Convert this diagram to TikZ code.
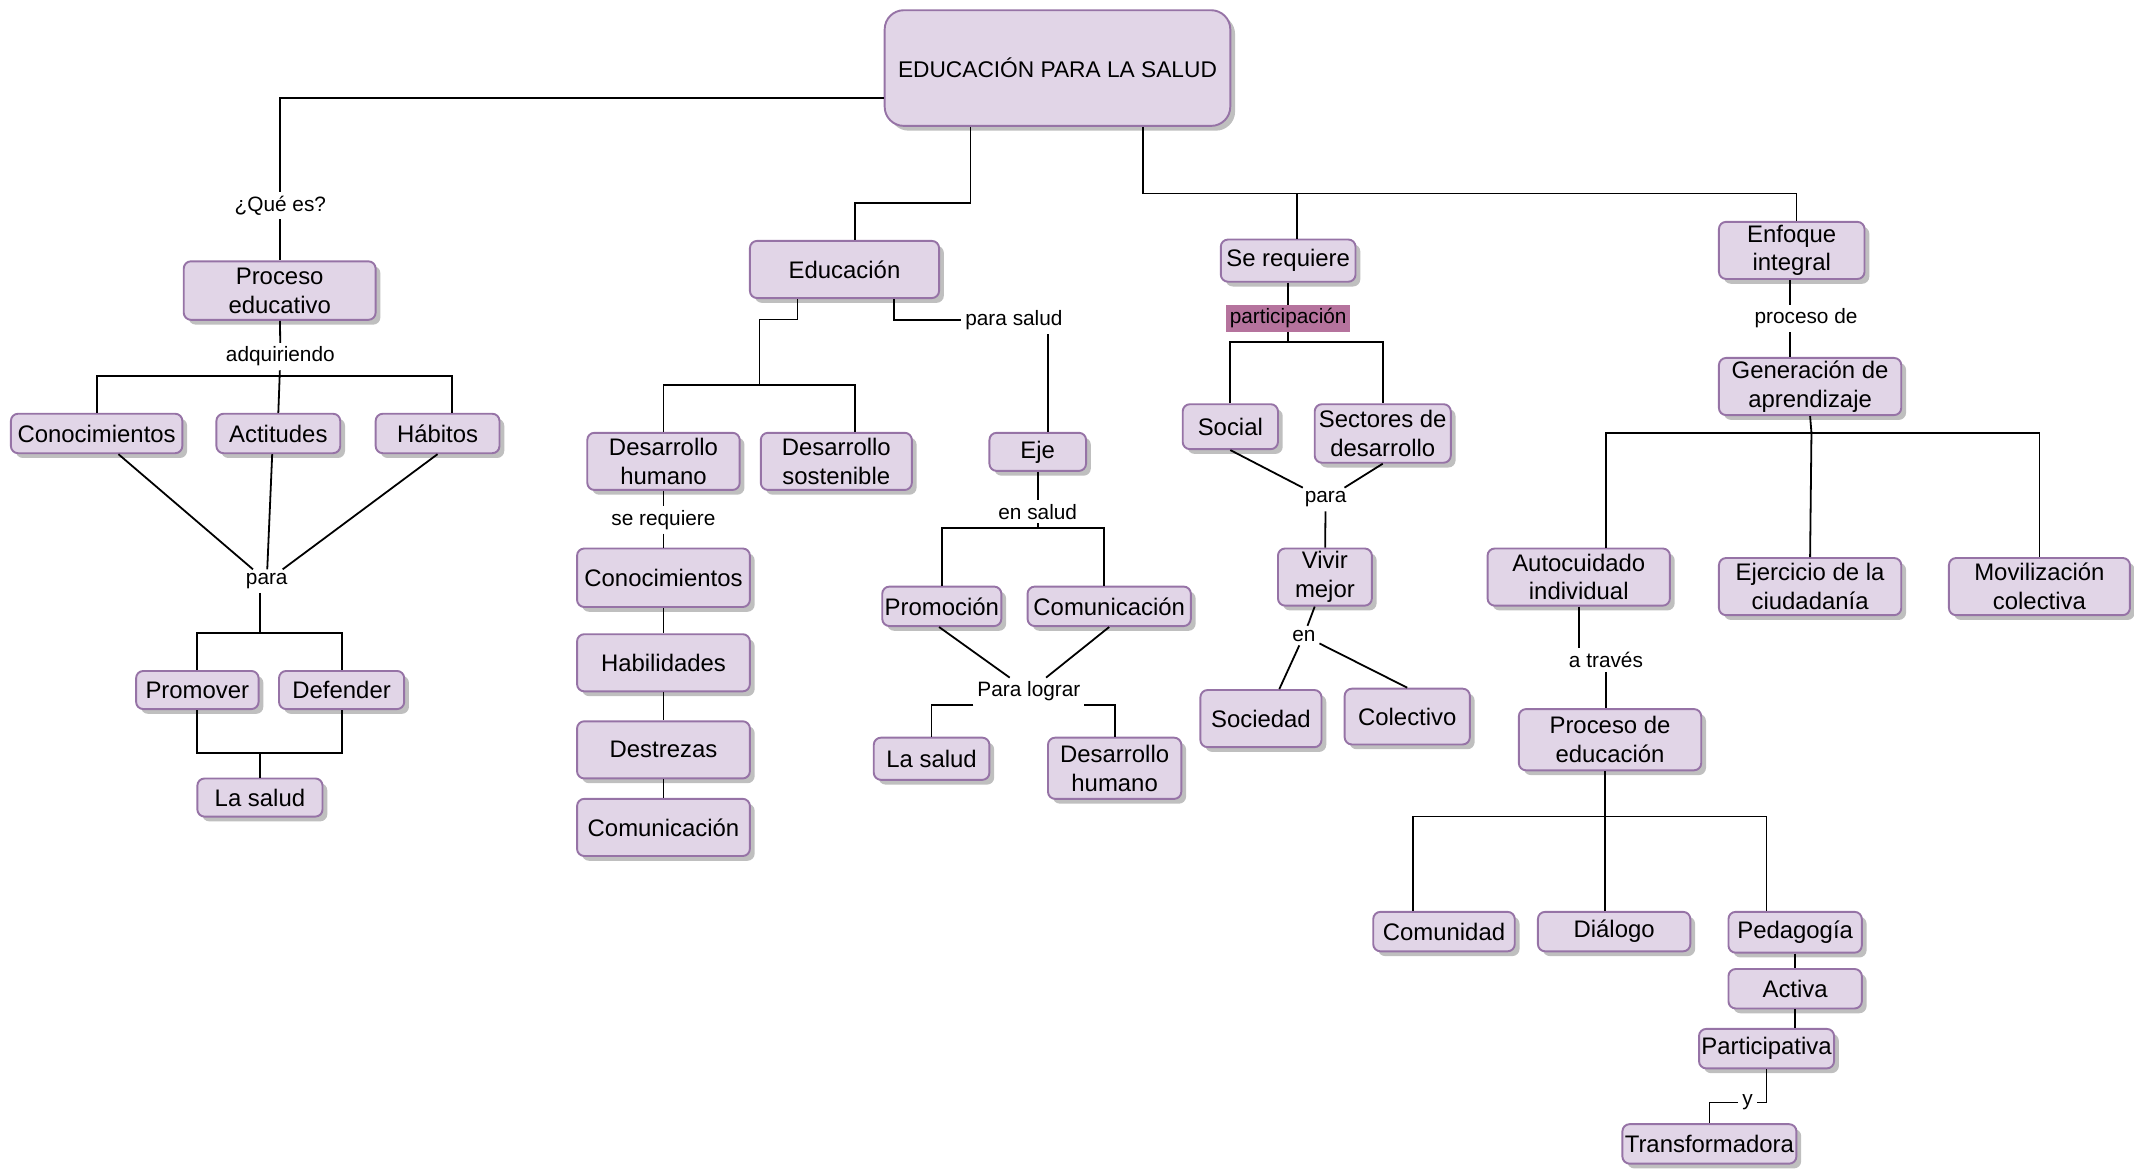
\documentclass[tikz,border=0pt]{standalone}
\usepackage{fontspec}
\setmainfont{Liberation Sans}
\usepackage{tikz}
\usetikzlibrary{positioning, shadows}
\definecolor{boxfill}{HTML}{E1D5E7}
\definecolor{boxdraw}{HTML}{9673A6}
\definecolor{markfill}{HTML}{B5739D}
\tikzset{box/.style={draw=boxdraw, fill=boxfill, line width=0.8pt, rounded corners=3pt,
		align=center, inner sep=1pt, font=\fontsize{10}{12}\selectfont,
		drop shadow={shadow xshift=2pt, shadow yshift=-2pt, fill=black!25, opacity=1}},
	lbl/.style={inner sep=1.5pt, font=\fontsize{8.7}{10}\selectfont}}

\begin{document}
\begin{tikzpicture}[x=0.02cm, y=-0.02cm]
	\useasboundingbox (0,0) rectangle (1568,859);

	\node[box, rounded corners=8pt, minimum width=5.08cm, minimum height=1.7cm, font=\fontsize{9.5}{11}\selectfont] (title) at (777,50) {EDUCACI\'ON PARA LA SALUD};

	% rama izquierda
	\node[lbl] (que) at (206,151) {¿Qué es?};
	\node[box, minimum width=2.82cm, minimum height=0.86cm] (proc) at (205.5,213.5) {Proceso\\educativo};
	\node[lbl] (adq) at (206,262) {adquiriendo};
	\node[box, minimum width=2.52cm, minimum height=0.58cm] (conocA) at (71,318.5) {Conocimientos};
	\node[box, minimum width=1.82cm, minimum height=0.58cm] (actit) at (204.5,318.5) {Actitudes};
	\node[box, minimum width=1.82cm, minimum height=0.58cm] (habit) at (321.5,318.5) {Hábitos};
	\node[lbl] (paraA) at (196,427) {para};
	\node[box, minimum width=1.80cm, minimum height=0.56cm] (promov) at (145,507) {Promover};
	\node[box, minimum width=1.84cm, minimum height=0.56cm] (defend) at (251,507) {Defender};
	\node[box, minimum width=1.84cm, minimum height=0.56cm] (saludA) at (191,586) {La salud};
	\coordinate (bA) at (205.5,276);
	\coordinate (bB) at (191,465);
	\coordinate (bC) at (191,553);

	% rama educacion
	\node[box, minimum width=2.78cm, minimum height=0.84cm] (educ) at (620.5,198) {Educación};
	\node[lbl] (psalud) at (745,235) {para salud};
	\node[box, minimum width=2.24cm, minimum height=0.84cm] (dhumA) at (487.5,339) {Desarrollo\\humano};
	\node[box, minimum width=2.22cm, minimum height=0.84cm] (dsost) at (614.5,339) {Desarrollo\\sostenible};
	\node[lbl] (sereqB) at (487.5,382) {se requiere};
	\node[box, minimum width=2.54cm, minimum height=0.86cm] (conocB) at (487.5,424.5) {Conocimientos};
	\node[box, minimum width=2.54cm, minimum height=0.84cm, below of=conocB, node distance=1.25cm] (habil) {Habilidades};
	\node[box, minimum width=2.54cm, minimum height=0.84cm, below of=habil, node distance=1.28cm] (destr) {Destrezas};
	\node[box, minimum width=2.54cm, minimum height=0.84cm, below of=destr, node distance=1.14cm] (comunB) {Comunicación};
	\node[box, minimum width=1.42cm, minimum height=0.56cm] (eje) at (762.5,332) {Eje};
	\node[lbl] (ensalud) at (762.5,376) {en salud};
	\node[box, minimum width=1.72cm, minimum height=0.58cm] (promoc) at (692,445.5) {Promoción};
	\node[box, minimum width=2.40cm, minimum height=0.58cm] (comunC) at (815,445.5) {Comunicación};
	\node[lbl] (plograr) at (756,508) {Para lograr};
	\node[box, minimum width=1.70cm, minimum height=0.62cm] (saludB) at (684.5,557.5) {La salud};
	\node[box, minimum width=1.96cm, minimum height=0.90cm] (dhumB) at (819,564.5) {Desarrollo\\humano};
	\coordinate (bD) at (558,283);
	\coordinate (bE) at (762.5,388);

	% rama se requiere
	\node[box, minimum width=1.98cm, minimum height=0.62cm] (sereq) at (946.5,191.5) {Se requiere};
	\node[lbl, fill=markfill] (partic) at (946.5,234) {participación};
	\node[box, minimum width=1.40cm, minimum height=0.66cm] (social) at (904,313.5) {Social};
	\node[box, minimum width=2.00cm, minimum height=0.86cm] (sector) at (1016,318.5) {Sectores de\\desarrollo};
	\node[lbl] (paraB) at (974,367) {para};
	\node[box, minimum width=1.38cm, minimum height=0.84cm] (vivir) at (973.5,424) {Vivir\\mejor};
	\node[lbl] (en) at (958,467) {en};
	\node[box, minimum width=1.78cm, minimum height=0.84cm] (socied) at (926.5,528) {Sociedad};
	\node[box, minimum width=1.84cm, minimum height=0.82cm] (colect) at (1034,526.5) {Colectivo};
	\coordinate (bF) at (946.5,251);

	% rama enfoque
	\node[box, minimum width=2.14cm, minimum height=0.84cm] (enfoq) at (1316.5,184) {Enfoque\\integral};
	\node[lbl] (procde) at (1327,234) {proceso de};
	\node[box, minimum width=2.68cm, minimum height=0.84cm] (genera) at (1330,284) {Generación de\\aprendizaje};
	\node[box, minimum width=2.68cm, minimum height=0.84cm] (autoc) at (1160,424) {Autocuidado\\individual};
	\node[box, minimum width=2.68cm, minimum height=0.84cm] (ejerc) at (1330,431) {Ejercicio de la\\ciudadanía};
	\node[box, minimum width=2.66cm, minimum height=0.84cm] (moviliz) at (1498.5,431) {Movilización\\colectiva};
	\node[lbl] (atraves) at (1180,485) {a través};
	\node[box, minimum width=2.68cm, minimum height=0.90cm] (procedu) at (1183,543.5) {Proceso de\\educación};
	\node[box, minimum width=2.08cm, minimum height=0.58cm] (comunid) at (1061,684.5) {Comunidad};
	\node[box, minimum width=2.24cm, minimum height=0.58cm] (dialog) at (1186,684.5) {Diálogo};
	\node[box, minimum width=1.96cm, minimum height=0.60cm] (pedag) at (1319,685) {Pedagogía};
	\node[box, minimum width=1.96cm, minimum height=0.58cm, below of=pedag, node distance=0.83cm] (activa) {Activa};
	\node[box, minimum width=1.96cm, minimum height=0.58cm] (partiv) at (1298,770.5) {Participativa};
	\node[lbl] (ylbl) at (1284,810) {y};
	\node[box, minimum width=2.52cm, minimum height=0.58cm] (transf) at (1256,840.5) {Transformadora};
	\coordinate (bG) at (1331,318);
	\coordinate (bH) at (1179,600);

	% conectores
	\begin{scope}[line width=0.75pt]
		\draw ([yshift=-0.44cm]title.west) -| (que.north);
		\draw (que.south) -- (que.south |- proc.north);
		\draw ([xshift=-1.28cm]title.south) -- ++(0,56) -| ([xshift=0.15cm]educ.north);
		\draw ([xshift=1.26cm]title.south) -- ++(0,49) coordinate (bT) -| ([xshift=0.07cm]enfoq.north);
		\draw ([xshift=0.13cm]sereq.north) -- ([xshift=0.13cm]sereq.north |- bT);

		\draw (proc) -- (adq);
		\draw (adq) -- (bA);
		\draw (conocA.north) |- (bA) -| ([xshift=0.21cm]habit.north);
		\draw (bA) -- (actit.north);
		\draw ([xshift=0.32cm]conocA.south) -- (paraA);
		\draw ([xshift=-0.09cm]actit.south) -- (paraA);
		\draw (habit.south) -- (paraA);
		\draw (paraA.south -| bB) -- (bB);
		\draw (promov.north) |- (bB) -| (defend.north);
		\draw (promov.south) |- (bC) -| (defend.south);
		\draw (bC) -- (saludA.north);

		\draw ([xshift=-0.69cm]educ.south) -- ++(0,15) -| (bD);
		\draw (dhumA.north) |- (bD) -| ([xshift=0.27cm]dsost.north);
		\draw ([xshift=0.73cm]educ.south) |- (psalud.west);
		\draw ([xshift=0.15cm]eje.north) -- ([xshift=0.15cm]eje.north |- psalud.south);
		\draw (dhumA) -- (sereqB);
		\draw (sereqB) -- (conocB);
		\draw (conocB) -- (habil) -- (destr) -- (comunB);
		\draw (eje) -- (ensalud);
		\draw (ensalud) -- (bE);
		\draw (promoc.north) |- (bE) -| ([xshift=-0.08cm]comunC.north);
		\draw ([xshift=-0.04cm]promoc.south) -- (plograr);
		\draw (comunC.south) -- (plograr);
		\draw (plograr.south west) -| (saludB.north);
		\draw (plograr.south east) -| (dhumB.north);

		\draw (sereq) -- (partic);
		\draw (partic) -- (bF);
		\draw (social.north) |- (bF) -| (sector.north);
		\draw (social.south) -- (paraB);
		\draw (sector.south) -- (paraB);
		\draw (paraB) -- (vivir);
		\draw ([xshift=-0.15cm]vivir.south) -- (en);
		\draw (en) -- ([xshift=0.27cm]socied.north);
		\draw (en) -- (colect.north);

		\draw ([xshift=-0.03cm]enfoq.south) -- ([xshift=-0.03cm]enfoq.south |- procde.north);
		\draw ([xshift=-0.03cm]enfoq.south |- procde.south) -- ([xshift=-0.03cm]enfoq.south |- genera.north);
		\draw (genera.south) -- (bG);
		\draw ([xshift=0.4cm]autoc.north) |- (bG) -| (moviliz.north);
		\draw (bG) -- (ejerc.north);
		\draw (autoc.south) -- (autoc.south |- atraves.north);
		\draw (atraves.south) -- (atraves.south |- procedu.north);
		\draw (bH |- procedu.south) -- (bH);
		\draw ([xshift=-0.46cm]comunid.north) |- (bH) -| ([xshift=-0.42cm]pedag.north);
		\draw (bH) -- (bH |- dialog.north);
		\draw (pedag) -- (activa);
		\draw (activa.south) -- (activa.south |- partiv.north);
		\draw (partiv.south) |- (ylbl.east);
		\draw (ylbl.west) -| (transf.north);
	\end{scope}
\end{tikzpicture}
\end{document}
